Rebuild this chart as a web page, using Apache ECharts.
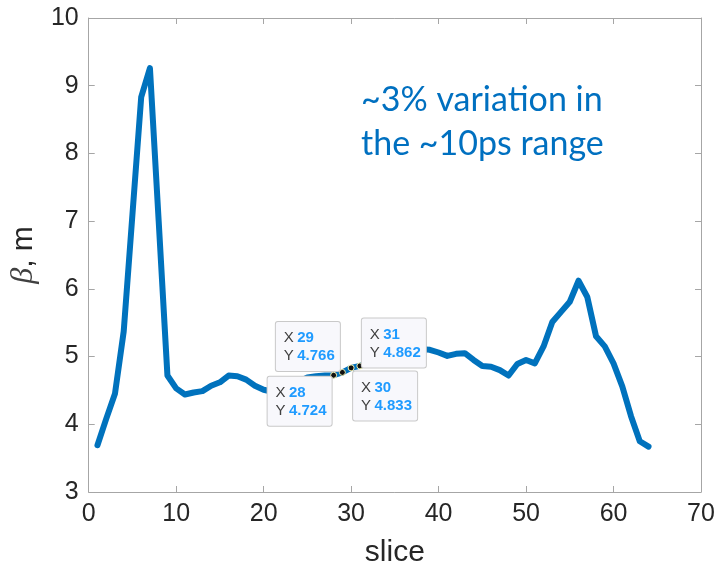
<!DOCTYPE html>
<html>
<head>
<meta charset="utf-8">
<script src="https://cdn.jsdelivr.net/npm/echarts@6/dist/echarts.min.js"></script>
<style>html,body{margin:0;padding:0;background:#fff}#c{width:720px;height:574px}</style>
</head>
<body>
<div id="c"></div>
<script>
const slices = [1,2,3,4,5,6,7,8,9,10,11,12,13,14,15,16,17,18,19,20,21,22,23,24,25,26,27,28,29,30,31,32,33,34,35,36,37,38,39,40,41,42,43,44,45,46,47,48,49,50,51,52,53,54,55,56,57,58,59,60,61,62,63,64];
const beta = [3.69,4.08,4.45,5.37,7.10,8.83,9.26,7.00,4.72,4.53,4.44,4.47,4.49,4.57,4.62,4.72,4.71,4.66,4.57,4.51,4.48,4.50,4.56,4.63,4.69,4.71,4.72,4.724,4.766,4.833,4.862,4.92,4.98,5.03,5.06,5.08,5.10,5.11,5.10,5.06,5.01,5.04,5.05,4.95,4.86,4.85,4.80,4.72,4.89,4.95,4.90,5.15,5.51,5.66,5.81,6.12,5.88,5.30,5.15,4.90,4.56,4.12,3.75,3.67];
const tipX = [28,29,30,31];
const tipY = [4.724,4.766,4.833,4.862];
const xTicks = [0,10,20,30,40,50,60,70];
const yTicks = [3,4,5,6,7,8,9,10];
const noteLines = ['~3% variation in','the ~10ps range'];

const chart = echarts.init(document.getElementById('c'), null, {renderer:'canvas'});
const axisCol = '#a6a6a6';
const lblCol = '#262626';
const font = '"Liberation Sans", Arial, sans-serif';

// box geometry for data tips
const boxW = 64, boxH = 49, padL = 8, padT = 7;
// tip label placements (relative to marker bbox top-left; marker centre at [3,3])
const tipPlace = [
  {position:[3 - 1.5 - boxW, 3 + 2]},
  {position:[3 - 2 - boxW, 3 - 1 - boxH]},
  {position:[3 + 2.5, 3 + 4]},
  {position:[3 + 2.5, 3 + 2 - boxH]}
];

const tipData = tipX.map((x,i)=>({
  value:[x, tipY[i]],
  label:Object.assign({
    show:true,
    align:'left', verticalAlign:'top',
    formatter:'{k|X} {v|' + x + '}\n{k|Y} {v|' + tipY[i].toFixed(3) + '}'
  }, tipPlace[i])
}));

const option = {
  backgroundColor:'#ffffff',
  animation:false,
  grid:{left:85, right:19, top:18, bottom:82, containLabel:false},
  xAxis:[{
    type:'value', min:0, max:70, interval:10,
    name:'slice', nameLocation:'middle', nameGap:46,
    nameTextStyle:{fontSize:30, color:lblCol, fontFamily:font},
    axisLine:{show:true, onZero:false, lineStyle:{color:axisCol, width:1}},
    axisTick:{show:true, inside:true, length:6, lineStyle:{color:axisCol}},
    axisLabel:{fontSize:25, color:lblCol, fontFamily:font, margin:10,
      formatter:v=>xTicks.includes(v)?String(v):''},
    splitLine:{show:false}
  },{
    type:'value', min:0, max:70, interval:10, position:'top',
    axisLine:{show:true, onZero:false, lineStyle:{color:axisCol, width:1}},
    axisTick:{show:true, inside:true, length:6, lineStyle:{color:axisCol}},
    axisLabel:{show:false}, splitLine:{show:false}
  }],
  yAxis:[{
    type:'value', min:3, max:10, interval:1,
    name:'{b|β}{m|, m}', nameLocation:'middle', nameGap:42, nameRotate:90,
    nameTextStyle:{color:lblCol, rich:{
      b:{fontSize:32, fontStyle:'italic', fontFamily:'"Liberation Serif", "DejaVu Serif", serif', color:'#404040'},
      m:{fontSize:30, fontFamily:font, color:lblCol}
    }},
    axisLine:{show:true, onZero:false, lineStyle:{color:axisCol, width:1}},
    axisTick:{show:true, inside:true, length:6, lineStyle:{color:axisCol}},
    axisLabel:{fontSize:25, color:lblCol, fontFamily:font, margin:10,
      formatter:v=>yTicks.includes(v)?String(v):''},
    splitLine:{show:false}
  },{
    type:'value', min:3, max:10, interval:1, position:'right',
    axisLine:{show:true, onZero:false, lineStyle:{color:axisCol, width:1}},
    axisTick:{show:true, inside:true, length:6, lineStyle:{color:axisCol}},
    axisLabel:{show:false}, splitLine:{show:false}
  }],
  series:[{
    type:'line',
    data:slices.map((x,i)=>[x, beta[i]]),
    showSymbol:false, symbol:'none',
    lineStyle:{color:'#0072BD', width:6, join:'round', cap:'round'},
    z:2
  },{
    type:'scatter',
    data:tipData,
    symbol:'circle', symbolSize:6,
    itemStyle:{color:'#111111', borderColor:'#f3f0b0', borderWidth:1, opacity:1},
    label:{
      backgroundColor:'#f8f8fc', borderColor:'#c9c9c9', borderWidth:1, borderRadius:2,
      padding:[padT, padL, padT, padL], width:boxW - 2*padL, height:boxH - 2*padT,
      lineHeight:18, opacity:1,
      rich:{
        k:{fontSize:15, color:'#404040', fontFamily:font, lineHeight:18},
        v:{fontSize:15, color:'#1f9bff', fontFamily:font, fontWeight:'bold', lineHeight:18}
      }
    },
    z:5
  }],
  graphic:[{
    type:'text', left:361, top:78, z:10,
    style:{
      text:noteLines.join('\n'),
      fontSize:34, lineHeight:44, fill:'#0070C0',
      fontFamily:'Lato, "Open Sans", sans-serif'
    }
  }]
};
chart.setOption(option);
</script>
</body>
</html>
